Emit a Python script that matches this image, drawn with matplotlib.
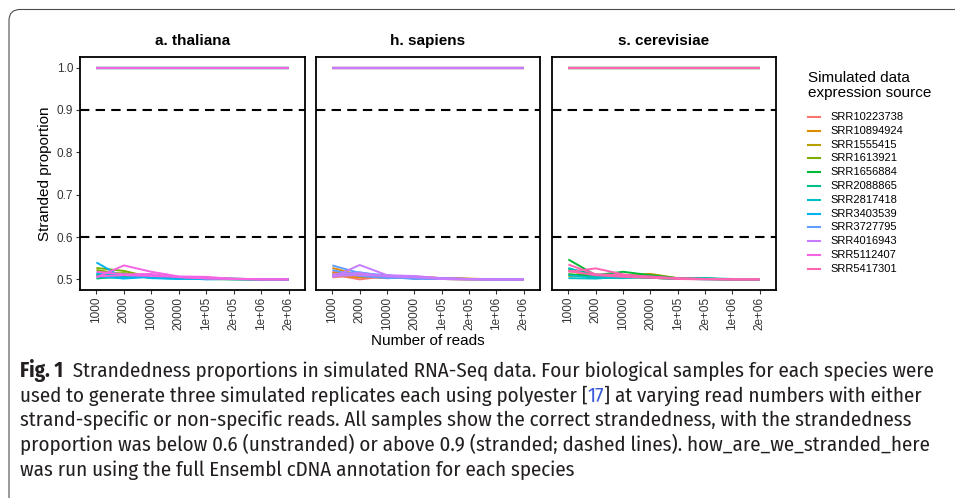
import matplotlib
matplotlib.use("Agg")
import matplotlib.pyplot as plt
from matplotlib.lines import Line2D
from matplotlib.patches import FancyBboxPatch
from matplotlib.transforms import IdentityTransform

plt.rcParams['font.family'] = ['Liberation Sans', 'DejaVu Sans']

W, H = 955, 498

# read-count categories (x axis)
READS = ["1000", "2000", "10000", "20000", "1e+05", "2e+05", "1e+06", "2e+06"]

SPECIES = ["a. thaliana", "h. sapiens", "s. cerevisiae"]

# all samples in legend order, ggplot hue palette
SAMPLES = ["SRR10223738", "SRR10894924", "SRR1555415", "SRR1613921",
           "SRR1656884", "SRR2088865", "SRR2817418", "SRR3403539",
           "SRR3727795", "SRR4016943", "SRR5112407", "SRR5417301"]
COLORS = ["#F8766D", "#DE8C00", "#B79F00", "#7CAE00", "#00BA38", "#00C08B",
          "#00BFC4", "#00B4F0", "#619CFF", "#C77CFF", "#F564E3", "#FF64B0"]

SPECIES_SAMPLES = {
    "a. thaliana": ["SRR1613921", "SRR2088865", "SRR3403539", "SRR5112407"],
    "h. sapiens": ["SRR10223738", "SRR10894924", "SRR3727795", "SRR4016943"],
    "s. cerevisiae": ["SRR1555415", "SRR1656884", "SRR2817418", "SRR5417301"],
}

# stranded replicates all sit at 1.0
STRANDED = [1.0, 1.0, 1.0, 1.0, 1.0, 1.0, 1.0, 1.0]

# unstranded replicates (3 per sample)
UNSTRANDED = {
    "SRR1613921": [[0.527, 0.520, 0.505, 0.503, 0.502, 0.501, 0.500, 0.500],
                   [0.522, 0.512, 0.508, 0.504, 0.501, 0.500, 0.500, 0.500],
                   [0.510, 0.515, 0.503, 0.505, 0.502, 0.501, 0.500, 0.500]],
    "SRR2088865": [[0.502, 0.508, 0.510, 0.505, 0.502, 0.501, 0.500, 0.500],
                   [0.505, 0.504, 0.507, 0.503, 0.503, 0.501, 0.501, 0.500],
                   [0.512, 0.510, 0.504, 0.502, 0.501, 0.502, 0.500, 0.500]],
    "SRR3403539": [[0.540, 0.503, 0.510, 0.502, 0.503, 0.501, 0.500, 0.500],
                   [0.508, 0.502, 0.506, 0.504, 0.500, 0.501, 0.501, 0.500],
                   [0.515, 0.512, 0.503, 0.501, 0.502, 0.500, 0.500, 0.500]],
    "SRR5112407": [[0.505, 0.533, 0.518, 0.507, 0.506, 0.501, 0.500, 0.500],
                   [0.518, 0.512, 0.513, 0.505, 0.503, 0.502, 0.500, 0.500],
                   [0.507, 0.510, 0.508, 0.506, 0.502, 0.501, 0.500, 0.500]],
    "SRR10223738": [[0.512, 0.500, 0.508, 0.507, 0.503, 0.501, 0.500, 0.500],
                    [0.505, 0.510, 0.506, 0.504, 0.502, 0.501, 0.500, 0.500],
                    [0.518, 0.506, 0.503, 0.505, 0.501, 0.500, 0.500, 0.500]],
    "SRR10894924": [[0.527, 0.510, 0.503, 0.506, 0.503, 0.502, 0.500, 0.500],
                    [0.510, 0.505, 0.507, 0.504, 0.502, 0.501, 0.501, 0.500],
                    [0.515, 0.512, 0.504, 0.503, 0.501, 0.500, 0.500, 0.500]],
    "SRR3727795": [[0.533, 0.515, 0.510, 0.502, 0.502, 0.501, 0.500, 0.500],
                   [0.522, 0.508, 0.503, 0.504, 0.501, 0.500, 0.500, 0.500],
                   [0.510, 0.517, 0.506, 0.501, 0.502, 0.501, 0.500, 0.500]],
    "SRR4016943": [[0.505, 0.534, 0.510, 0.508, 0.503, 0.501, 0.500, 0.500],
                   [0.512, 0.515, 0.507, 0.505, 0.502, 0.501, 0.500, 0.500],
                   [0.508, 0.510, 0.509, 0.506, 0.501, 0.500, 0.500, 0.500]],
    "SRR1555415": [[0.520, 0.508, 0.510, 0.513, 0.503, 0.502, 0.500, 0.500],
                   [0.512, 0.506, 0.505, 0.508, 0.502, 0.501, 0.500, 0.500],
                   [0.508, 0.510, 0.507, 0.504, 0.501, 0.501, 0.500, 0.500]],
    "SRR1656884": [[0.547, 0.510, 0.518, 0.510, 0.503, 0.502, 0.500, 0.500],
                   [0.512, 0.508, 0.510, 0.507, 0.502, 0.501, 0.500, 0.500],
                   [0.525, 0.512, 0.505, 0.504, 0.501, 0.502, 0.500, 0.500]],
    "SRR2817418": [[0.503, 0.502, 0.506, 0.505, 0.502, 0.503, 0.501, 0.500],
                   [0.527, 0.507, 0.508, 0.504, 0.501, 0.501, 0.500, 0.500],
                   [0.510, 0.504, 0.503, 0.506, 0.502, 0.500, 0.500, 0.500]],
    "SRR5417301": [[0.535, 0.512, 0.510, 0.507, 0.502, 0.501, 0.500, 0.500],
                   [0.518, 0.526, 0.512, 0.505, 0.503, 0.501, 0.500, 0.500],
                   [0.520, 0.510, 0.506, 0.504, 0.501, 0.500, 0.500, 0.500]],
}

THRESHOLDS = [0.6, 0.9]
Y_TICKS = [0.5, 0.6, 0.7, 0.8, 0.9, 1.0]
Y_LABELS = ["0.5", "0.6", "0.7", "0.8", "0.9", "1.0"]

CAPTION = [
    "Strandedness proportions in simulated RNA-Seq data. Four biological samples for each species were",
    "used to generate three simulated replicates each using polyester [",
    "strand-specific or non-specific reads. All samples show the correct strandedness, with the strandedness",
    "proportion was below 0.6 (unstranded) or above 0.9 (stranded; dashed lines). how_are_we_stranded_here",
    "was run using the full Ensembl cDNA annotation for each species",
]
CAPTION_REF = "17"
CAPTION_LINE2_TAIL = "] at varying read numbers with either"

fig = plt.figure(figsize=(W / 100, H / 100), dpi=100)

# panel boxes in pixels: left, right, top, bottom
panel_px = [(80, 305), (316, 540), (552, 776)]
top_px, bot_px = 57, 290
x = list(range(len(READS)))

for k, (sp, (l, r)) in enumerate(zip(SPECIES, panel_px)):
    ax = fig.add_axes([l / W, 1 - bot_px / H, (r - l) / W, (bot_px - top_px) / H])
    for s in SPECIES_SAMPLES[sp]:
        c = COLORS[SAMPLES.index(s)]
        for rep in UNSTRANDED[s]:
            ax.plot(x, rep, color=c, lw=1.4, solid_capstyle='butt')
        ax.plot(x, STRANDED, color=c, lw=1.6, solid_capstyle='butt')
    for t in THRESHOLDS:
        ax.axhline(t, color='black', lw=1.5, ls=(0, (4.5, 3)))
    ax.set_xlim(-0.6, len(READS) - 1 + 0.6)
    ax.set_ylim(0.475, 1.025)
    ax.set_xticks(x)
    ax.set_xticklabels(READS, rotation=90, fontsize=8.5, color='#333333')
    if k == 0:
        ax.set_yticks(Y_TICKS)
        ax.set_yticklabels(Y_LABELS, fontsize=8.5, color='#333333')
    else:
        ax.set_yticks([])
    ax.tick_params(length=3, width=0.8, color='#333333', pad=2)
    for sp_ in ax.spines.values():
        sp_.set_linewidth(1.3)
        sp_.set_color('black')
    fig.text((l + r) / 2 / W, 1 - 41 / H, sp, ha='center', va='center',
             fontsize=11, fontweight='bold')

fig.text(45 / W, 1 - 174 / H, "Stranded proportion", rotation=90,
         ha='center', va='center', fontsize=11)
fig.text(428 / W, 1 - 341 / H, "Number of reads", ha='center', va='center',
         fontsize=11)

# legend
fig.text(808 / W, 1 - 71 / H, "Simulated data\nexpression source", ha='left',
         va='top', fontsize=11, linespacing=1.05)
for i, (s, c) in enumerate(zip(SAMPLES, COLORS)):
    yy = 1 - (117 + i * 13.8) / H
    fig.add_artist(Line2D([808 / W, 820 / W], [yy, yy], color=c, lw=1.5,
                          transform=fig.transFigure))
    fig.text(830 / W, yy, s, ha='left', va='center', fontsize=8)

# outer frame
frame = FancyBboxPatch((9, -40), 1000, 498 - 9.5 + 40,
                       boxstyle="round,pad=0,rounding_size=11",
                       transform=IdentityTransform(), fill=False,
                       ec='#4d4d4d', lw=0.8)
fig.add_artist(frame)

# caption, condensed face
renderer = fig.canvas.get_renderer()
cap_font = ['Fira Sans Condensed', 'PT Sans Narrow', 'Liberation Sans']
cap_color = '#231f20'


def width_of(txt, size, weight='normal'):
    t = fig.text(0, 0, txt, fontsize=size, family=cap_font, fontweight=weight)
    w = t.get_window_extent(renderer).width
    t.remove()
    return w


base = 12
w0 = width_of("Fig. 1", base, 'bold') + width_of("  " + CAPTION[0], base)
size = base * (937 - 20) / w0

x0 = 20
baselines = [377, 402, 426, 451, 476]
for i, line in enumerate(CAPTION):
    yb = 1 - baselines[i] / H
    xx = x0
    if i == 0:
        t = fig.text(xx / W, yb, "Fig. 1", fontsize=size, family=cap_font,
                     fontweight='bold', va='baseline', color=cap_color)
        xx += t.get_window_extent(renderer).width
        line = "  " + line
    t = fig.text(xx / W, yb, line, fontsize=size, family=cap_font,
                 va='baseline', color=cap_color)
    if i == 1:
        xx += t.get_window_extent(renderer).width
        t = fig.text(xx / W, yb, CAPTION_REF, fontsize=size, family=cap_font,
                     va='baseline', color='#3B5BDB')
        xx += t.get_window_extent(renderer).width
        fig.text(xx / W, yb, CAPTION_LINE2_TAIL, fontsize=size,
                 family=cap_font, va='baseline', color=cap_color)

fig.savefig("out.png", dpi=100, facecolor='white')
